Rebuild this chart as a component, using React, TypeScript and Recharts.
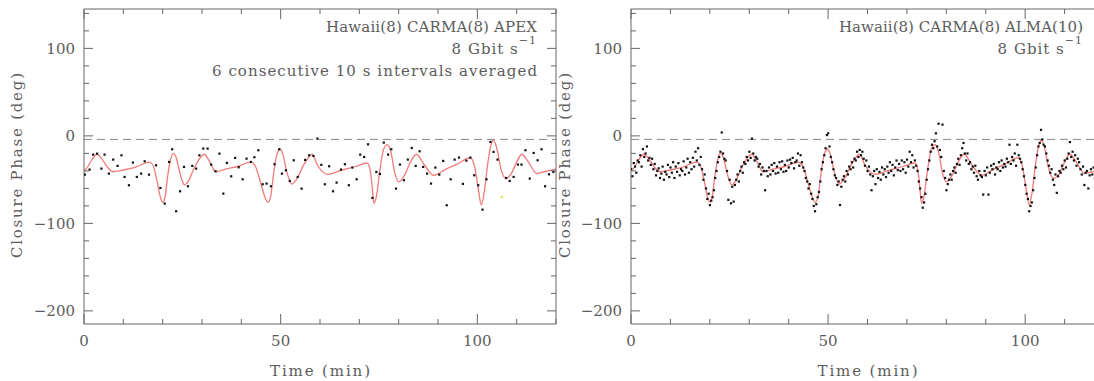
import React from 'react';
import { ComposedChart, XAxis, YAxis, Line, Scatter, ReferenceLine } from 'recharts';

// ---- axes ----
const timeTicks = [0, 10, 20, 30, 40, 50, 60, 70, 80, 90, 100, 110, 120];
const timeLabels = [0, 50, 100];
const phaseTicks = [-200, -180, -160, -140, -120, -100, -80, -60, -40, -20, 0, 20, 40, 60, 80, 100, 120, 140];
const phaseLabels = [-200, -100, 0, 100];
const timeDomain = [0, 120];
const phaseDomain = [-215, 145];
const zeroLevel = -4;

// ---- model curve (red) ----
const modelTimes = [0, 1, 2, 3.3, 4.5, 6, 7.4, 10, 13, 16.6, 17.5, 18.5, 19.3, 20, 20.6, 21.3, 22, 22.6, 23.2, 24, 25, 25.5, 26.5, 28, 30.6, 32, 33.5, 36, 39, 42.4, 43.5, 45, 46, 46.8, 47.5, 48.3, 49, 49.8, 50.5, 51.5, 52.8, 54, 56, 58, 59.3, 61.9, 65, 69, 72, 72.8, 73.3, 73.7, 74.3, 75.2, 76.2, 77.1, 78, 79, 80, 81.5, 83, 84.5, 86.5, 88.9, 92, 95, 98.2, 99.3, 100.3, 101, 101.7, 102.7, 103.5, 104.1, 105, 106, 107.3, 108.5, 110, 111.3, 113, 115.1, 117, 120];
const modelPhase = [-40, -35, -27, -21, -26, -36, -41, -39, -36, -30, -33, -50, -68, -76, -70, -45, -27, -20, -22, -35, -52, -56, -52, -37, -21, -30, -41, -38, -35, -30, -34, -55, -70, -76, -68, -40, -22, -15, -20, -40, -55, -50, -32, -21, -33, -44, -40, -35, -31, -40, -60, -77, -70, -40, -15, -10, -18, -42, -52.6, -45, -30, -21, -33, -45, -38, -32, -25, -35, -62, -79, -66, -30, -10, -5, -15, -38, -48.7, -44, -30, -21, -30, -43, -41, -38];

// ---- left panel: APEX, 1-min averages ----
const apexTimes = [0.2, 1.4, 2.3, 3.3, 4.4, 5.2, 6.3, 7.4, 8.5, 9.5, 10.3, 11.4, 12.4, 13.4, 14.5, 15.4, 16.5, 18.3, 19.4, 20.5, 21.6, 22.4, 23.4, 24.4, 25.4, 26.4, 27.5, 28.5, 29.3, 30.3, 31.4, 32.3, 33.4, 34.4, 35.4, 36.3, 37.4, 38.4, 39.3, 40.3, 41.3, 42.4, 43.3, 44.3, 45.4, 46.4, 47.5, 48.4, 49.6, 50.3, 51.3, 52.3, 53.3, 54.3, 55.3, 56.2, 57.2, 58.3, 59.3, 60.3, 61.2, 62.3, 63.3, 64.2, 65.3, 66.3, 67.3, 68.2, 69.3, 70.2, 71.2, 72.2, 73.3, 74.3, 75.2, 76.2, 77.3, 78.1, 79.3, 80.3, 81.3, 82.3, 83.3, 84.3, 85.3, 86.2, 87.2, 88.2, 89.3, 90.3, 91.3, 92.2, 93.2, 94.2, 95.3, 96.3, 97.2, 98.2, 99.2, 100.2, 101.3, 102.3, 103.3, 104.1, 105.1, 107.3, 108.2, 109.2, 110.3, 111.2, 112.2, 113.3, 114.3, 115.3, 116.3, 117.2, 118.2, 119.3];
const apexPhase = [-44.2, -38.4, -21.3, -20.2, -37.3, -21.3, -43, -27, -34.2, -22.1, -46.8, -56.3, -30.4, -46.8, -43, -28.9, -44.2, -33.5, -59.4, -77.3, -29.7, -15.2, -86, -63.2, -35.4, -57.5, -34.2, -37.3, -22.1, -14.4, -14.4, -32.7, -40.3, -20.2, -65.9, -30.8, -46.1, -25.1, -35.8, -49.5, -25.9, -29.7, -24.3, -16.3, -55.2, -54.4, -57.5, -32.3, -15.2, -43, -39.2, -51.4, -27.8, -46.8, -60.2, -27.4, -22.1, -22.8, -3, -33, -55.2, -34.6, -63.2, -53.3, -38.4, -32.3, -56.3, -36.1, -49.5, -21.3, -24, -9.5, -70.8, -41.1, -43.4, -7.6, -21.3, -15.2, -60.2, -32.7, -50.6, -27, -13.7, -34.2, -17.5, -35.4, -43, -54.4, -36.1, -44.2, -28.5, -79.2, -49.5, -27, -24.7, -54.8, -28.2, -24.7, -44.9, -56.3, -84.2, -49.5, -6.8, -18.2, -27, -48, -51.4, -46.8, -32.7, -32.7, -16.3, -48.7, -19.4, -27.8, -15.2, -57.5, -43.8, -41.1];
const apexOddTimes = [106.2];
const apexOddPhase = [-69.7];

// ---- right panel: ALMA, sampled every 20 s ----
const ALMA_STEP_MIN = 1 / 3;
const almaPhase = [
  -38, -46, -31, -35, -42, -28, -30, -22, -35, -15, -24, -20, -12, -28, -25,
  -33, -26, -38, -32, -45, -40, -37, -48, -43, -35, -50, -41, -44, -33, -47,
  -36, -42, -30, -48, -35, -41, -31, -45, -38, -40, -29, -44, -36, -26, -42,
  -30, -38, -25, -35, -18, -28, -14, -33, -24, -38, -50, -44, -60, -72, -66,
  -79, -74, -70, -62, -48, -40, -30, -24, -18, 4, -20, -26, -28, -40, -73,
  -50, -77, -58, -75, -56, -50, -44, -52, -40, -35, -42, -30, -32, -24, -28,
  -18, -25, -3, -20, -28, -24, -26, -35, -32, -44, -36, -40, -62, -40, -46,
  -36, -44, -33, -40, -31, -43, -35, -42, -30, -38, -29, -41, -33, -40, -28,
  -36, -27, -31, -25, -37, -30, -28, -20, -34, -22, -30, -36, -40, -48, -52,
  -60, -55, -66, -72, -80, -86, -78, -70, -64, -52, -38, -30, -22, -14, 1,
  3, -12, -24, -30, -38, -45, -48, -56, -52, -79, -58, -50, -46, -52, -40,
  -44, -35, -38, -30, -36, -26, -28, -18, -24, -16, -22, -18, -26, -34, -28,
  -40, -35, -44, -62, -46, -40, -55, -38, -48, -41, -50, -36, -44, -38, -47,
  -35, -42, -30, -40, -33, -45, -36, -28, -39, -32, -40, -28, -38, -30, -42,
  -27, -35, -18, -30, -22, -36, -28, -34, -40, -52, -60, -70, -82, -76, -66,
  -50, -38, -28, -18, -10, -14, -6, 3, -12, 14, -16, -24, 13, -40, -48,
  -62, -55, -50, -44, -50, -40, -36, -42, -32, -26, -33, -22, -14, -8, -20,
  -28, -20, -32, -30, -38, -35, -42, -34, -46, -50, -40, -45, -47, -67, -40,
  -45, -36, -67, -42, -34, -38, -32, -44, -36, -38, -30, -40, -28, -36, -32,
  -35, -26, -30, -10, -32, -24, -28, -20, -34, -10, -22, -26, -30, -38, -46,
  -56, -66, -72, -86, -80, -76, -62, -48, -36, -22, -12, -8, 7, -4, -10,
  -12, -20, -28, -34, -42, -38, -50, -56, -44, -65, -46, -40, -42, -34, -38,
  -28, -36, -26, -20, -7, -24, -18, -28, -22, -34, -26, -30, -38, -44, -35,
  -56, -42, -40, -60, -45, -38, -44, -36, -48, -40, -46, -35,
];

// ---- tables built from the arrays ----
const modelData = modelTimes.map((t, i) => ({ t, v: modelPhase[i] }));
const apexData = apexTimes.map((t, i) => ({ t, v: apexPhase[i] }));
const apexOddData = apexOddTimes.map((t, i) => ({ t, v: apexOddPhase[i] }));
const almaData = almaPhase.map((v, i) => ({ t: i * ALMA_STEP_MIN, v }));

const AXIS = '#666';
const TEXT = '#5c5c5c';
const FONT = '"DejaVu Serif", serif';
const RED = '#f27a7a';

const fmt = (v: number) => (v < 0 ? '\u2212' + Math.abs(v) : String(v));

function BottomTick(props: any) {
  const { x, y, payload } = props;
  const major = timeLabels.includes(payload.value);
  return (
    <g>
      <line x1={x} y1={y} x2={x} y2={y - (major ? 10 : 5)} stroke={AXIS} />
      {major && (
        <text x={x} y={y + 22} textAnchor="middle" fill={TEXT} fontSize={15} fontFamily={FONT}>
          {fmt(payload.value)}
        </text>
      )}
    </g>
  );
}
function TopTick(props: any) {
  const { x, y, payload } = props;
  const major = timeLabels.includes(payload.value);
  return <line x1={x} y1={y} x2={x} y2={y + (major ? 10 : 5)} stroke={AXIS} />;
}
function LeftTick(props: any) {
  const { x, y, payload } = props;
  const major = phaseLabels.includes(payload.value);
  return (
    <g>
      <line x1={x} y1={y} x2={x + (major ? 9 : 5)} y2={y} stroke={AXIS} />
      {major && (
        <text x={x - 9} y={y} dy="0.36em" textAnchor="end" fill={TEXT} fontSize={15} fontFamily={FONT}>
          {fmt(payload.value)}
        </text>
      )}
    </g>
  );
}
function RightTick(props: any) {
  const { x, y, payload } = props;
  const major = phaseLabels.includes(payload.value);
  return <line x1={x} y1={y} x2={x - (major ? 9 : 5)} y2={y} stroke={AXIS} />;
}

const dotShape = (color: string) => (p: any) => (
  <rect x={p.cx - 1} y={p.cy - 1} width={2.2} height={2.2} fill={color} />
);

function Panel({ left, width, dots, odd }: { left: number; width: number; dots: any[]; odd?: any[] }) {
  return (
    <div style={{ position: 'absolute', left, top: 0 }}>
      <ComposedChart width={width} height={381} margin={{ top: 8, right: 9, bottom: 0, left: 0 }}>
        <XAxis type="number" dataKey="t" domain={timeDomain} ticks={timeTicks} interval={0} allowDataOverflow
          height={57} tickSize={0} tickMargin={0} tickLine={false} tick={<BottomTick />} stroke={AXIS} />
        <XAxis xAxisId="top" orientation="top" type="number" dataKey="t" domain={timeDomain} ticks={timeTicks} interval={0} allowDataOverflow
          height={1} tickSize={0} tickMargin={0} tickLine={false} tick={<TopTick />} stroke={AXIS} />
        <YAxis type="number" dataKey="v" domain={phaseDomain} ticks={phaseTicks} interval={0} allowDataOverflow
          width={84} tickSize={0} tickMargin={0} tickLine={false} tick={<LeftTick />} stroke={AXIS} />
        <YAxis yAxisId="right" orientation="right" type="number" dataKey="v" domain={phaseDomain} ticks={phaseTicks} interval={0} allowDataOverflow
          width={1} tickSize={0} tickMargin={0} tickLine={false} tick={<RightTick />} stroke={AXIS} />
        <ReferenceLine y={zeroLevel} stroke="#888" strokeDasharray="8 5" />
        <Line data={modelData} dataKey="v" type="monotone" stroke={RED} strokeWidth={1.3} dot={false} isAnimationActive={false} />
        <Scatter data={dots} dataKey="v" fill="#111" shape={dotShape('#111')} isAnimationActive={false} />
        {odd && <Scatter data={odd} dataKey="v" fill="#e8e040" shape={dotShape('#e8e040')} isAnimationActive={false} />}
      </ComposedChart>
    </div>
  );
}

export default function App() {
  const t = { fill: TEXT, fontFamily: FONT, fontSize: 15 } as const;
  return (
    <div style={{ position: 'absolute', left: 0, top: 0, width: 1094, height: 381, overflow: 'hidden', background: '#fff' }}>
      <Panel left={0} width={566} dots={apexData} odd={apexOddData} />
      <Panel left={547} width={567} dots={almaData} />
      <svg width={1094} height={381} style={{ position: 'absolute', left: 0, top: 0, pointerEvents: 'none' }}>
        <text x={537} y={32} textAnchor="end" textLength={211} lengthAdjust="spacing" {...t}>Hawaii(8) CARMA(8) APEX</text>
        <text x={537} y={54} textAnchor="end" letterSpacing={1} {...t}>
          8 Gbit s<tspan dy={-10} fontSize={11}>{'\u22121'}</tspan>
        </text>
        <text x={537} y={76} textAnchor="end" textLength={325} lengthAdjust="spacing" {...t}>6 consecutive 10 s intervals averaged</text>
        <text x={1083} y={32} textAnchor="end" textLength={244} lengthAdjust="spacing" {...t}>Hawaii(8) CARMA(8) ALMA(10)</text>
        <text x={1083} y={54} textAnchor="end" letterSpacing={1} {...t}>
          8 Gbit s<tspan dy={-10} fontSize={11}>{'\u22121'}</tspan>
        </text>
        <text transform="translate(17,165.5) rotate(-90)" textAnchor="middle" dy="0.36em" textLength={185} lengthAdjust="spacing" {...t}>Closure Phase (deg)</text>
        <text transform="translate(565,165.5) rotate(-90)" textAnchor="middle" dy="0.36em" textLength={185} lengthAdjust="spacing" {...t}>Closure Phase (deg)</text>
        <text x={320} y={376} textAnchor="middle" textLength={100} lengthAdjust="spacing" {...t}>Time (min)</text>
        <text x={867.5} y={376} textAnchor="middle" textLength={100} lengthAdjust="spacing" {...t}>Time (min)</text>
      </svg>
    </div>
  );
}
